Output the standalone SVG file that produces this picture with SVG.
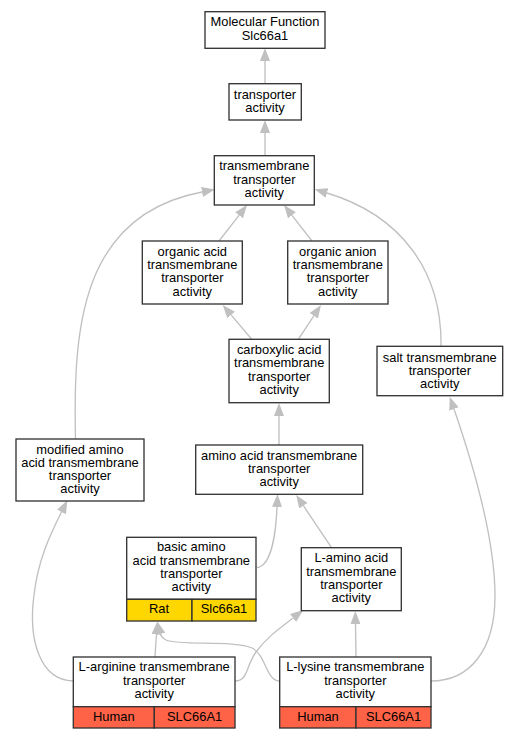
<svg xmlns="http://www.w3.org/2000/svg" width="519" height="739" viewBox="0 0 519 739">
<style>
.n{fill:#fff;stroke:#333;stroke-width:1.33}
.y{fill:#ffd700;stroke:#333;stroke-width:1.33}
.r{fill:#ff6347;stroke:#333;stroke-width:1.33}
text{font-family:"Liberation Sans",Arial,sans-serif;font-size:12.9px;fill:#000;text-anchor:middle}
.e path{fill:none;stroke:#c0c0c0;stroke-width:1.33;marker-end:url(#a)}
</style>
<defs>
<marker id="a" viewBox="0 0 13 10" refX="0" refY="5" markerWidth="13" markerHeight="10" markerUnits="userSpaceOnUse" orient="auto">
<path d="M0,0 L13,5 L0,10 z" fill="#c0c0c0"/>
</marker>
</defs>
<rect width="519" height="739" fill="#fff"/>
<g class="e" id="edges">
<path d="M265,83.7 L265,61"/>
<path d="M265,155.7 L265,133"/>
<path d="M75.5,439 C73,330 80,215 202,192"/>
<path d="M441,346 C442,270 400,215 327,193"/>
<path d="M219,241 L239,215.3"/>
<path d="M312,241 L292,215.3"/>
<path d="M251.7,339.3 L231.1,314.9"/>
<path d="M298.3,339.3 L313.8,315.8"/>
<path d="M279,445 L279,416"/>
<path d="M257,567.5 C272,566 276,530 277,507"/>
<path d="M331.5,547.7 L303.4,505.7"/>
<path d="M73,681 C40,680 28,640 34,595 C38,560 50,535 61.5,512"/>
<path d="M155,657 C155.5,648 156,642 156.5,634.5"/>
<path d="M279,681 C266,680 266,655 252,648 C235,640 180,646 166,640 C162,638 161,636 160.5,634"/>
<path d="M235,681 C248,681 245,668 256,652 C266,638 280,628 293,618"/>
<path d="M356,657 L355.5,624"/>
<path d="M431,681 C470,681 495,650 495,596 C495,540 475,470 454,409"/>
</g>
<g id="mf"><rect class="n" x="205" y="11.7" width="120" height="36.6"/><text x="265" y="26.3">Molecular Function</text><text x="265" y="39.6">Slc66a1</text></g>
<g id="transporter"><rect class="n" x="229" y="83.7" width="72.3" height="36.3"/><text x="265" y="98.6">transporter</text><text x="265" y="111.9">activity</text></g>
<g id="transmembrane"><rect class="n" x="214.3" y="155.7" width="100" height="49.3"/><text x="264.3" y="170.3">transmembrane</text><text x="264.3" y="183.6">transporter</text><text x="264.3" y="196.9">activity</text></g>
<g id="organic_acid"><rect class="n" x="142.3" y="241" width="100" height="63"/><text x="192.3" y="255.6">organic acid</text><text x="192.3" y="268.9">transmembrane</text><text x="192.3" y="282.2">transporter</text><text x="192.3" y="295.5">activity</text></g>
<g id="organic_anion"><rect class="n" x="287.7" y="241" width="100.3" height="63"/><text x="337.8" y="255.6">organic anion</text><text x="337.8" y="268.9">transmembrane</text><text x="337.8" y="282.2">transporter</text><text x="337.8" y="295.5">activity</text></g>
<g id="carboxylic"><rect class="n" x="229" y="339.3" width="100.3" height="63.4"/><text x="279.2" y="353.9">carboxylic acid</text><text x="279.2" y="367.2">transmembrane</text><text x="279.2" y="380.5">transporter</text><text x="279.2" y="393.8">activity</text></g>
<g id="salt"><rect class="n" x="377" y="346.3" width="125.7" height="49.4"/><text x="439.8" y="361.5">salt transmembrane</text><text x="439.8" y="374.6">transporter</text><text x="439.8" y="387.8">activity</text></g>
<g id="amino_acid"><rect class="n" x="195.7" y="445" width="167" height="49.3"/><text x="279.2" y="459.8">amino acid transmembrane</text><text x="279.2" y="473.1">transporter</text><text x="279.2" y="486.4">activity</text></g>
<g id="modified"><rect class="n" x="16" y="439" width="128" height="62"/><text x="80" y="453.5">modified amino</text><text x="80" y="466.8">acid transmembrane</text><text x="80" y="480.1">transporter</text><text x="80" y="493.4">activity</text></g>
<g id="basic"><rect class="n" x="126.7" y="537.3" width="129.3" height="62"/><rect class="y" x="126.7" y="599.3" width="65.3" height="21.7"/><rect class="y" x="192" y="599.3" width="64" height="21.7"/><text x="191.3" y="551.3">basic amino</text><text x="191.3" y="564.6">acid transmembrane</text><text x="191.3" y="577.9">transporter</text><text x="191.3" y="591.2">activity</text><text x="159" y="613.2">Rat</text><text x="224" y="613.2">Slc66a1</text></g>
<g id="l_amino"><rect class="n" x="301.3" y="547.7" width="100" height="63"/><text x="351.3" y="562.3">L-amino acid</text><text x="351.3" y="575.6">transmembrane</text><text x="351.3" y="588.9">transporter</text><text x="351.3" y="602.2">activity</text></g>
<g id="l_arginine"><rect class="n" x="73.3" y="657" width="161.7" height="49.7"/><rect class="r" x="73.3" y="706.7" width="81" height="21.3"/><rect class="r" x="154.3" y="706.7" width="80.7" height="21.3"/><text x="154.2" y="671.3">L-arginine transmembrane</text><text x="154.2" y="684.9">transporter</text><text x="154.2" y="698.2">activity</text><text x="113.8" y="721.3">Human</text><text x="194.6" y="721.3">SLC66A1</text></g>
<g id="l_lysine"><rect class="n" x="279.7" y="657" width="151.3" height="49.7"/><rect class="r" x="279.7" y="706.7" width="76.3" height="21.3"/><rect class="r" x="356" y="706.7" width="75" height="21.3"/><text x="355.3" y="671.3">L-lysine transmembrane</text><text x="355.3" y="684.9">transporter</text><text x="355.3" y="698.2">activity</text><text x="318" y="721.3">Human</text><text x="393.5" y="721.3">SLC66A1</text></g>
</svg>
